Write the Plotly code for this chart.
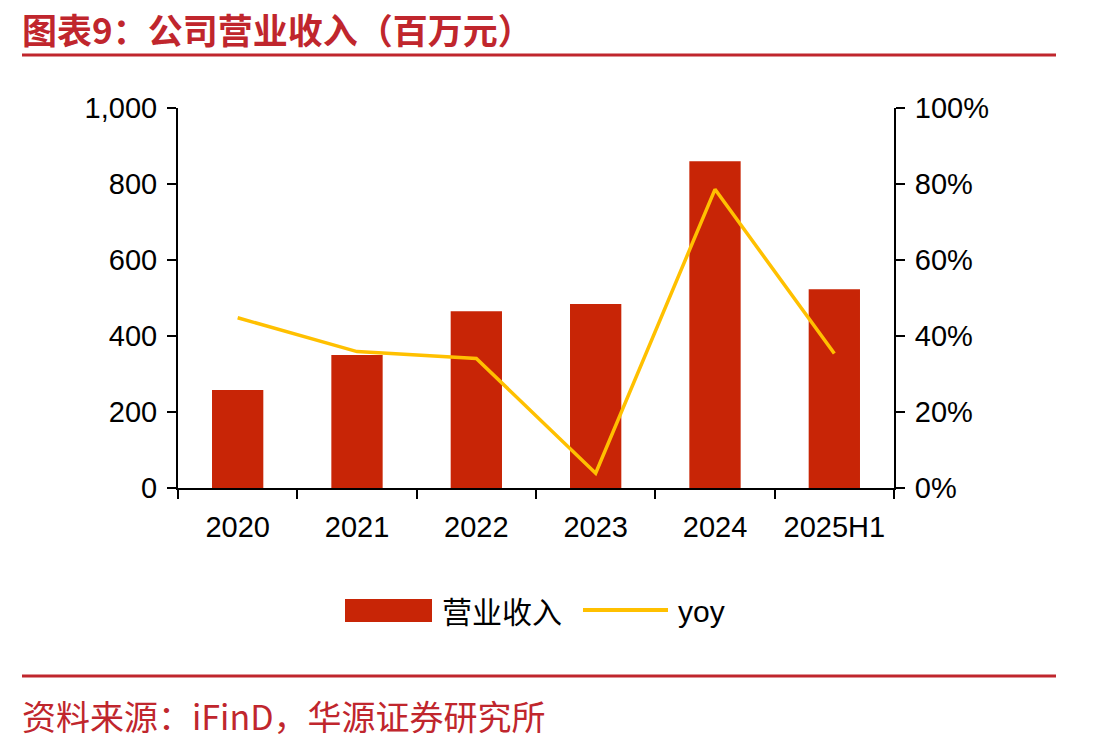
import plotly.graph_objects as go

categories = ["2020", "2021", "2022", "2023", "2024", "2025H1"]
revenue = [258, 350, 465, 484, 860, 523]
yoy = [0.448, 0.359, 0.341, 0.039, 0.786, 0.354]
left_ticks = [0, 200, 400, 600, 800, 1000]
left_tick_text = ["0", "200", "400", "600", "800", "1,000"]
right_ticks = [0, 0.2, 0.4, 0.6, 0.8, 1.0]
right_tick_text = ["0%", "20%", "40%", "60%", "80%", "100%"]
series_names = ["营业收入", "yoy"]

W, H = 1113, 748
BAR_COLOR = "#C82506"
LINE_COLOR = "#FFC000"
RED = "#C0262D"
CJK = "Noto Sans CJK SC, sans-serif"
TICK_FONT = dict(family="Liberation Sans, Arial, sans-serif", size=29, color="#000000")

def px_x(x):
    return x / W

def px_y(y):
    return 1 - y / H

fig = go.Figure()
fig.add_trace(go.Bar(
    x=categories, y=revenue, name=series_names[0],
    marker=dict(color=BAR_COLOR, line=dict(width=0)),
    width=0.43, yaxis="y", showlegend=False,
))
fig.add_trace(go.Scatter(
    x=categories, y=yoy, name=series_names[1], mode="lines",
    line=dict(color=LINE_COLOR, width=3.5), yaxis="y2", showlegend=False,
))

axis_common = dict(showgrid=False, zeroline=False, showline=True, linecolor="#000000",
                   linewidth=2, ticks="outside", tickcolor="#000000", tickwidth=2,
                   ticklen=9, tickfont=TICK_FONT, automargin=False)

fig.update_layout(
    width=W, height=H,
    margin=dict(l=0, r=0, t=0, b=0, pad=0, autoexpand=False),
    paper_bgcolor="white", plot_bgcolor="white",
    xaxis=dict(domain=[px_x(178), px_x(894)], type="category", tickson="boundaries",
               ticklabelstandoff=12, **axis_common),
    yaxis=dict(domain=[px_y(488), px_y(108)], range=[0, 1000], tickvals=left_ticks,
               ticktext=left_tick_text, ticklabelstandoff=4, **axis_common),
    yaxis2=dict(overlaying="y", side="right", anchor="x", range=[0, 1.0],
                tickvals=right_ticks, ticktext=right_tick_text, ticklabelstandoff=4,
                **axis_common),
    showlegend=False,
)

# legend drawn manually
fig.add_shape(type="rect", xref="paper", yref="paper",
              x0=px_x(345), x1=px_x(432), y0=px_y(622), y1=px_y(599),
              fillcolor=BAR_COLOR, line=dict(width=0))
fig.add_annotation(text=series_names[0], xref="paper", yref="paper",
                   x=px_x(440), y=px_y(610), xanchor="left", yanchor="middle",
                   showarrow=False, font=dict(family=CJK, size=30, color="#000000"))
fig.add_shape(type="line", xref="paper", yref="paper",
              x0=px_x(583), x1=px_x(668), y0=px_y(610), y1=px_y(610),
              line=dict(color=LINE_COLOR, width=4))
fig.add_annotation(text=series_names[1], xref="paper", yref="paper",
                   x=px_x(676), y=px_y(611), xanchor="left", yanchor="middle",
                   showarrow=False, font=dict(family="Liberation Sans, Arial, sans-serif",
                                              size=30, color="#000000"))

fig.add_annotation(
    text="<b>图表9：公司营业收入（百万元）</b>", xref="paper", yref="paper",
    x=px_x(20), y=px_y(1), xanchor="left", yanchor="top", showarrow=False,
    font=dict(family=CJK, size=35, color=RED),
)
fig.add_annotation(
    text="资料来源：iFinD，华源证券研究所", xref="paper", yref="paper",
    x=px_x(20), y=px_y(715), xanchor="left", yanchor="middle", showarrow=False,
    font=dict(family=CJK, size=34, color=RED),
)
for yy in (55, 676):
    fig.add_shape(type="line", xref="paper", yref="paper",
                  x0=px_x(22), x1=px_x(1056), y0=px_y(yy), y1=px_y(yy),
                  line=dict(color=RED, width=3))

fig.write_html("out.html")
